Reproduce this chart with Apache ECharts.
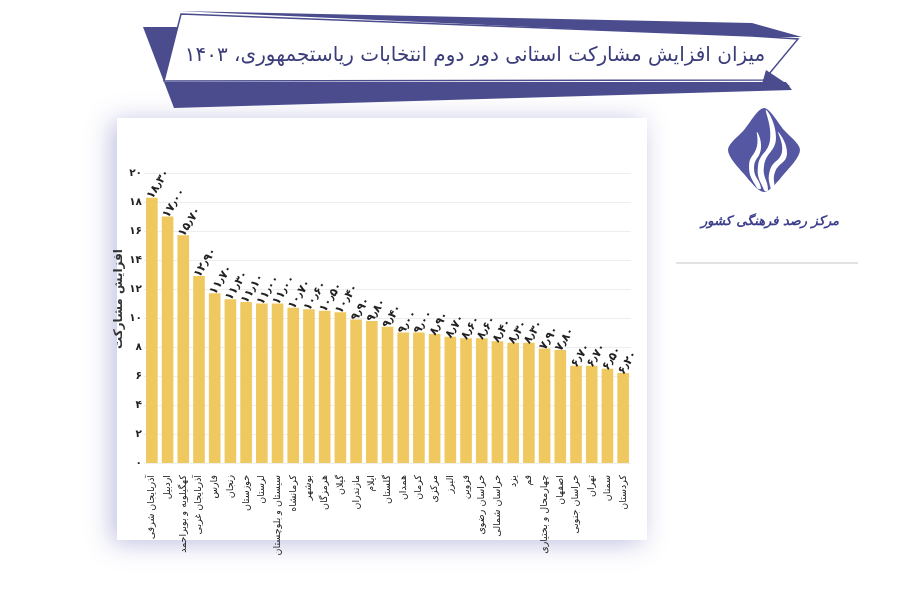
<!DOCTYPE html>
<html><head><meta charset="utf-8">
<script src="https://cdn.jsdelivr.net/npm/echarts@6/dist/echarts.min.js"></script>
<style>html,body{margin:0;padding:0;background:#fff}#c{width:900px;height:600px}</style>
</head><body><div id="c"></div>
<script>
const titleText = 'میزان افزایش مشارکت استانی دور دوم انتخابات ریاستجمهوری، ۱۴۰۳';
const yAxisName = 'افزایش مشارکت';
const logoText = 'مرکز رصد فرهنگی کشور';
const categories = ['آذربایجان شرقی','اردبیل','کهگیلویه و بویراحمد','آذربایجان غربی','فارس','زنجان','خوزستان','لرستان','سیستان و بلوچستان','کرمانشاه','بوشهر','هرمزگان','گیلان','مازندران','ایلام','گلستان','همدان','کرمان','مرکزی','البرز','قزوین','خراسان رضوی','خراسان شمالی','یزد','قم','چهارمحال و بختیاری','اصفهان','خراسان جنوبی','تهران','سمنان','کردستان'];
const values = [18.3,17.0,15.7,12.9,11.7,11.3,11.1,11.0,11.0,10.7,10.6,10.5,10.4,9.9,9.8,9.4,9.0,9.0,8.9,8.7,8.6,8.6,8.4,8.3,8.3,7.9,7.8,6.7,6.7,6.5,6.2];
const yTickValues = [0,2,4,6,8,10,12,14,16,18,20];
const yTickLabels = ['۰','۲','۴','۶','۸','۱۰','۱۲','۱۴','۱۶','۱۸','۲۰'];

const faDigits = '۰۱۲۳۴۵۶۷۸۹';
function toFa(s){ return String(s).replace(/[0-9]/g, d => faDigits[+d]).replace('.', '٫'); }

const FONT = 'DejaVu Sans';
const NAVY = '#4a4c8e';
const chart = echarts.init(document.getElementById('c'));
chart.setOption({
  backgroundColor: '#ffffff',
  animation: false,
  textStyle: { fontFamily: FONT },
  graphic: [
    { type: 'rect', z: -10, shape: { x: 117, y: 118, width: 530, height: 422 },
      style: { fill: '#ffffff', shadowBlur: 24, shadowColor: 'rgba(110,110,190,0.45)', shadowOffsetX: -5, shadowOffsetY: 3 } },
    { type: 'polygon', z: 5, shape: { points: [[143,27],[180,27],[170,60],[164,82],[786,82],[792,90],[174,108]] },
      style: { fill: NAVY } },
    { type: 'polygon', z: 5, shape: { points: [[178,11],[752,23],[802,37],[752,37]] }, style: { fill: NAVY } },
    { type: 'polygon', z: 6, shape: { points: [[181,14],[752,36],[798,39],[764,80],[164,81]] },
      style: { fill: '#ffffff', stroke: NAVY, lineWidth: 1.5 } },
    { type: 'polygon', z: 6, shape: { points: [[766,70],[790,86],[762,84]] }, style: { fill: NAVY } },
    { type: 'text', z: 7, style: { text: titleText, x: 475, y: 56, align: 'center', verticalAlign: 'middle',
      fill: '#3b3d7a', font: '20px "DejaVu Sans"' } },
    // logo
    { type: 'polygon', z: 5, shape: { smooth: 0.3, points: [[764,108],[784,130],[800,150],[784,174],[764,192],[744,174],[728,150],[744,130]] },
      style: { fill: '#5557a3' } },
    { type: 'polygon', z: 6, shape: { smooth: 0.5, points: [[757,188],[749,166],[757,146],[757,132],[761,148],[754,168],[761,188]] }, style: { fill: '#ffffff' } },
    { type: 'polygon', z: 6, shape: { smooth: 0.5, points: [[764,190],[758,166],[770,140],[766,110],[776,138],[764,166],[768,190]] }, style: { fill: '#ffffff' } },
    { type: 'polygon', z: 6, shape: { smooth: 0.5, points: [[771,190],[770,170],[782,152],[778,132],[787,154],[775,172],[774,190]] }, style: { fill: '#ffffff' } },
    { type: 'text', z: 6, style: { text: logoText, x: 770, y: 222, align: 'center', verticalAlign: 'middle',
      fill: '#3d3f8c', font: 'italic bold 13px "DejaVu Sans"' } },
    { type: 'line', z: 5, shape: { x1: 676, y1: 263, x2: 858, y2: 263 }, style: { stroke: '#e2e2e2', lineWidth: 2 } }
  ],
  grid: { left: 144, right: 269, top: 173, bottom: 137, containLabel: false },
  xAxis: {
    type: 'category', data: categories,
    axisLine: { show: false }, axisTick: { show: false },
    axisLabel: { interval: 0, rotate: 90, margin: 12, fontSize: 9.5, color: '#222', fontFamily: FONT }
  },
  yAxis: {
    type: 'value', min: 0, max: 20, interval: 2,
    name: yAxisName, nameLocation: 'middle', nameGap: 19, nameRotate: 90, nameMoveOverlap: false,
    nameTextStyle: { fontSize: 12, fontWeight: 'bold', color: '#333', fontFamily: FONT, padding: [0, 0, 0, 38] },
    axisLine: { show: false }, axisTick: { show: false },
    splitLine: { lineStyle: { color: '#eeeeee', width: 1 } },
    axisLabel: { margin: 2, fontSize: 10.5, fontWeight: 'bold', color: '#222', fontFamily: FONT,
      formatter: v => yTickLabels[yTickValues.indexOf(v)] }
  },
  series: [{
    type: 'bar', data: values, barCategoryGap: '26%',
    itemStyle: { color: '#efc85f' },
    label: { show: true, position: 'top', rotate: 58, align: 'left', verticalAlign: 'middle', distance: 3, offset: [-4, 0],
      fontSize: 11.5, fontWeight: 'bold', color: '#222', fontFamily: FONT,
      formatter: p => toFa(p.value.toFixed(2)) }
  }]
});
</script></body></html>
